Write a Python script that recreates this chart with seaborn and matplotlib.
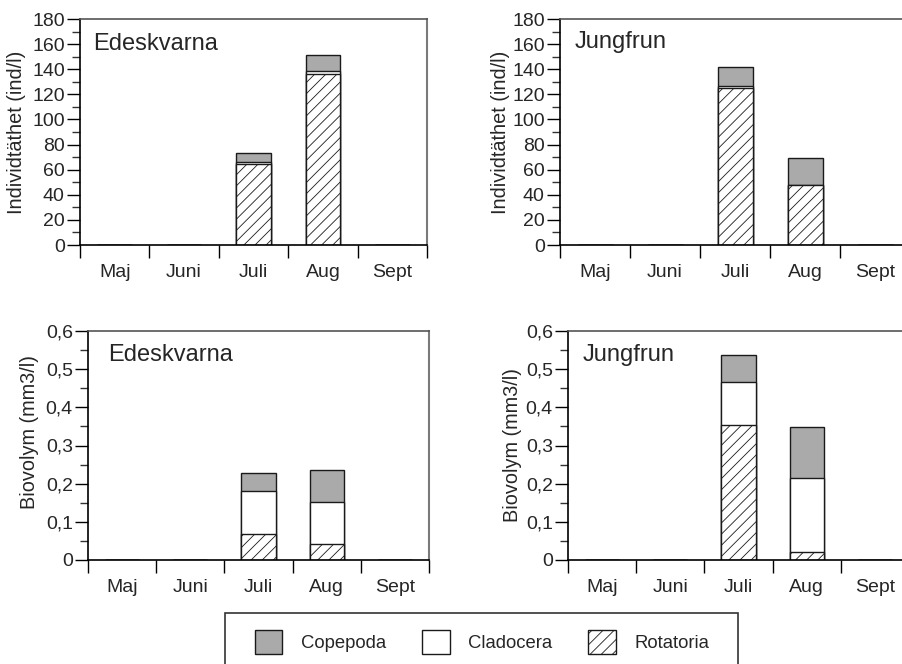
import numpy as np
import pandas as pd
import matplotlib
matplotlib.use("Agg")
import matplotlib.pyplot as plt
import seaborn as sns
from matplotlib.patches import Patch, Rectangle
from matplotlib.ticker import MultipleLocator, FuncFormatter

months = ["Maj", "Juni", "Juli", "Aug", "Sept"]

# Individtäthet (ind/l)
ede_ind_rot = [0, 0, 64.5, 136, 0]
ede_ind_clad = [0, 0, 2, 2.5, 0]
ede_ind_cop = [0, 0, 6.5, 13, 0]
jung_ind_rot = [0, 0, 125, 48, 0]
jung_ind_clad = [0, 0, 2, 0, 0]
jung_ind_cop = [0, 0, 15, 21, 0]

# Biovolym (mm3/l)
ede_bio_rot = [0, 0, 0.069, 0.041, 0]
ede_bio_clad = [0, 0, 0.111, 0.112, 0]
ede_bio_cop = [0, 0, 0.049, 0.083, 0]
jung_bio_rot = [0, 0, 0.355, 0.020, 0]
jung_bio_clad = [0, 0, 0.112, 0.195, 0]
jung_bio_cop = [0, 0, 0.069, 0.134, 0]

groups = ["Copepoda", "Cladocera", "Rotatoria"]

sns.set_style("ticks")
plt.rcParams["font.family"] = ["Liberation Sans", "DejaVu Sans"]
plt.rcParams["hatch.linewidth"] = 0.6
plt.rcParams["hatch.color"] = "#111111"

GRAY = "#aaaaaa"
EDGE = "#1a1a1a"
HATCH = "///"
FS = 14

W, H = 902, 664
fig = plt.figure(figsize=(W / 100, H / 100), dpi=100)


def px_axes(left, right, top, bottom):
    return fig.add_axes([left / W, (H - bottom) / H, (right - left) / W, (bottom - top) / H])


def stacked(ax, rot, clad, cop, ymax, major, minor, ylabel, site, fmt, site_xy, ylab_xy):
    df = pd.DataFrame({"month": months, "rot": rot, "clad": clad, "cop": cop})
    df["mid"] = df["rot"] + df["clad"]
    df["total"] = df["mid"] + df["cop"]
    common = dict(x="month", order=months, width=0.5, errorbar=None,
                  saturation=1, edgecolor=EDGE, linewidth=1.0, ax=ax)
    sns.barplot(data=df, y="total", color=GRAY, **common)
    sns.barplot(data=df, y="mid", color="white", **common)
    sns.barplot(data=df, y="rot", color="white", hatch=HATCH, **common)

    ax.set_xlim(-0.5, 4.5)
    ax.set_ylim(0, ymax)
    ax.set_xticks(np.arange(-0.5, 5, 1))
    ax.set_xticklabels([])
    ax.set_xticks(np.arange(5), minor=True)
    ax.set_xticklabels(months, minor=True, fontsize=FS)
    ax.tick_params(axis="x", which="major", length=9.4, width=1, color="black", direction="out")
    ax.tick_params(axis="x", which="minor", length=0, pad=13.5)
    ax.set_xlabel("")

    ax.yaxis.set_major_locator(MultipleLocator(major))
    ax.yaxis.set_minor_locator(MultipleLocator(minor))
    ax.yaxis.set_major_formatter(FuncFormatter(fmt))
    ax.tick_params(axis="y", which="major", length=9.4, width=1, color="black",
                   labelsize=FS, pad=1.5)
    ax.tick_params(axis="y", which="minor", length=5.8, width=1, color="#333333")
    ax.set_ylabel(ylabel, fontsize=14.3, va="center")
    ax.yaxis.set_label_coords(*ylab_xy)

    for side in ["left", "bottom"]:
        ax.spines[side].set_color("black")
        ax.spines[side].set_linewidth(1.2)
    ax.spines["top"].set_visible(True)
    ax.spines["right"].set_visible(True)
    ax.spines["top"].set_color("#555555")
    ax.spines["right"].set_color("#7a7a7a")
    ax.spines["top"].set_linewidth(1.2)
    ax.spines["right"].set_linewidth(1.5)

    ax.text(site_xy[0], site_xy[1], site, transform=ax.transAxes, fontsize=17,
            ha="left", va="center")


def fmt_int(v, pos):
    return f"{v:.0f}"


def fmt_comma(v, pos):
    return "0" if abs(v) < 1e-9 else f"{v:.1f}".replace(".", ",")


ax1 = px_axes(80, 427, 19, 245)
stacked(ax1, ede_ind_rot, ede_ind_clad, ede_ind_cop, 180, 20, 10,
        "Individtäthet (ind/l)", "Edeskvarna", fmt_int, (0.037, 0.89), (-0.182, 0.5))

ax2 = px_axes(560, 910, 19, 245)
stacked(ax2, jung_ind_rot, jung_ind_clad, jung_ind_cop, 180, 20, 10,
        "Individtäthet (ind/l)", "Jungfrun", fmt_int, (0.043, 0.90), (-0.171, 0.5))

ax3 = px_axes(88, 429, 331, 560)
stacked(ax3, ede_bio_rot, ede_bio_clad, ede_bio_cop, 0.6, 0.1, 0.05,
        "Biovolym (mm3/l)", "Edeskvarna", fmt_comma, (0.059, 0.895), (-0.172, 0.56))

ax4 = px_axes(568, 909, 331, 560)
stacked(ax4, jung_bio_rot, jung_bio_clad, jung_bio_cop, 0.6, 0.1, 0.05,
        "Biovolym (mm3/l)", "Jungfrun", fmt_comma, (0.044, 0.895), (-0.164, 0.5))

# legend
handles = [Patch(facecolor=GRAY, edgecolor=EDGE, linewidth=1),
           Patch(facecolor="white", edgecolor=EDGE, linewidth=1),
           Patch(facecolor="white", edgecolor=EDGE, linewidth=1, hatch=HATCH)]
fig.add_artist(Rectangle((225 / W, (H - 673) / H), 513 / W, 60 / H, fill=False,
                         edgecolor="#333333", linewidth=1.2, transform=fig.transFigure,
                         clip_on=False))
fig.legend(handles, groups, loc="center", bbox_to_anchor=(482 / W, (H - 642) / H),
           ncol=3, frameon=False, fontsize=13.3, handlelength=1.5, handleheight=1.6,
           handletextpad=1.0, columnspacing=1.95, borderpad=0)

fig.savefig("out.png", dpi=100)
